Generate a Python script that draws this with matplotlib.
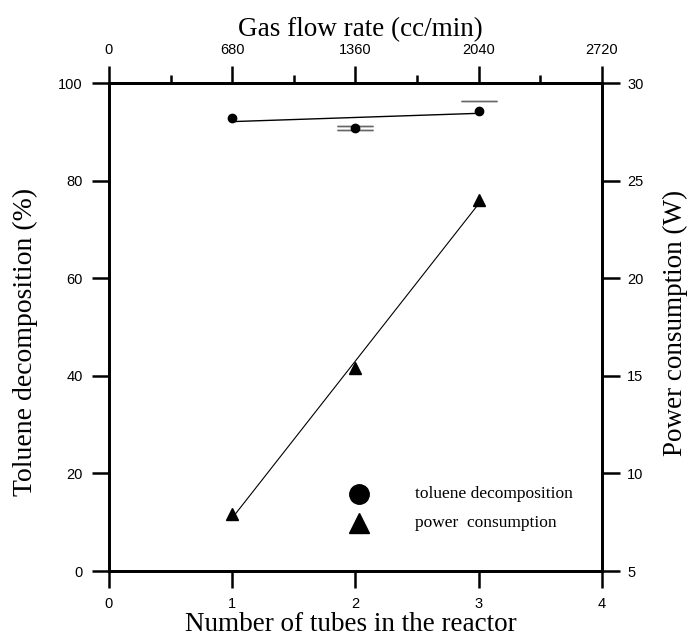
"""Toluene decomposition and power consumption vs. number of tubes"""

import matplotlib

matplotlib.use("Agg")
import matplotlib.pyplot as plt
import numpy as np

# 数据
tubes = [1, 2, 3]
decomposition = [92.8, 90.8, 94.3]
decomp_err_lo = [0.0, 0.45, 0.0]
decomp_err_hi = [0.0, 0.45, 2.0]
decomp_fit = [92.1, 93.8]
power = [7.9, 15.4, 24.0]
tube_ticks = [0, 1, 2, 3, 4]
flow_ticks = [0, 680, 1360, 2040, 2720]
flow_minor = [340, 1020, 1700, 2380]
left_ticks = [0, 20, 40, 60, 80, 100]
right_ticks = [5, 10, 15, 20, 25, 30]

serif = "Liberation Serif"
sans = "Liberation Sans"
label_size = 19.5
tick_size = 10.5

fig = plt.figure(figsize=(6.88, 6.37), dpi=100)
ax = fig.add_axes([0.1584, 0.1036, 0.7166, 0.766])

# 甲苯分解率
ax.plot(tubes, decomposition, "o", color="black", markersize=6, zorder=3)
ax.plot([tubes[0], tubes[-1]], decomp_fit, color="black", lw=1.0)
# 误差帽：只画有误差的一侧
for x, y, lo, hi in zip(tubes, decomposition, decomp_err_lo, decomp_err_hi):
    if lo > 0:
        ax.errorbar([x], [y - lo], yerr=0, fmt="none", ecolor="#666666",
                    elinewidth=0, capsize=13, capthick=1.0)
    if hi > 0:
        ax.errorbar([x], [y + hi], yerr=0, fmt="none", ecolor="#666666",
                    elinewidth=0, capsize=13, capthick=1.0)

ax.set_xlim(0, 4)
ax.set_ylim(0, 100)
ax.set_xticks(tube_ticks)
ax.set_yticks(left_ticks)

# 功耗（右轴）
ax2 = ax.twinx()
ax2.set_ylim(5, 30)
ax2.set_yticks(right_ticks)
ax2.plot(tubes, power, "^", color="black", markersize=8, zorder=3)
coef = np.polyfit(tubes, power, 1)
ax2.plot([tubes[0], tubes[-1]], np.polyval(coef, [tubes[0], tubes[-1]]),
         color="black", lw=0.8)

# 顶部气体流量轴
ax3 = ax.secondary_xaxis("top", functions=(lambda x: x * 680, lambda v: v / 680))
ax3.set_xticks(flow_ticks)
ax3.set_xticks(flow_minor, minor=True)

for a in (ax, ax2):
    for s in a.spines.values():
        s.set_linewidth(2.0)
ax3.spines["top"].set_linewidth(2.0)

ax.tick_params(direction="out", length=12, width=1.8, labelsize=tick_size,
               pad=7)
ax2.tick_params(direction="out", length=13, width=1.8, labelsize=tick_size,
                pad=5)
ax3.tick_params(which="major", direction="out", length=12, width=1.8,
                labelsize=tick_size, pad=7)
ax3.tick_params(which="minor", direction="out", length=6, width=1.8)
for a in (ax, ax2, ax3):
    for lbl in a.get_xticklabels() + a.get_yticklabels():
        lbl.set_fontfamily(sans)

ax.set_xlabel("Number of tubes in the reactor", fontsize=label_size,
              family=serif, va="center")
ax.xaxis.set_label_coords(0.491, -0.109)
ax.set_ylabel("Toluene decomposition (%)", fontsize=label_size + 0.5,
              family=serif, va="center")
ax.yaxis.set_label_coords(-0.170, 0.47)
ax2.set_ylabel("Power consumption (W)", fontsize=label_size,
               family=serif, va="center")
ax2.yaxis.set_label_coords(1.148, 0.508)
ax3.set_xlabel("Gas flow rate (cc/min)", fontsize=label_size,
               family=serif, va="center")
ax3.xaxis.set_label_coords(0.509, 1.11, transform=ax.transAxes)

# 图例
ax.plot([2.03], [15.7], "o", color="black", markersize=14)
ax.plot([2.03], [9.9], "^", color="black", markersize=14)
ax.text(2.48, 15.7, "toluene decomposition", fontsize=12.5, family=serif,
        va="center")
ax.text(2.48, 9.9, "power  consumption", fontsize=12.5, family=serif,
        va="center")

fig.savefig("out.png", dpi=100)
